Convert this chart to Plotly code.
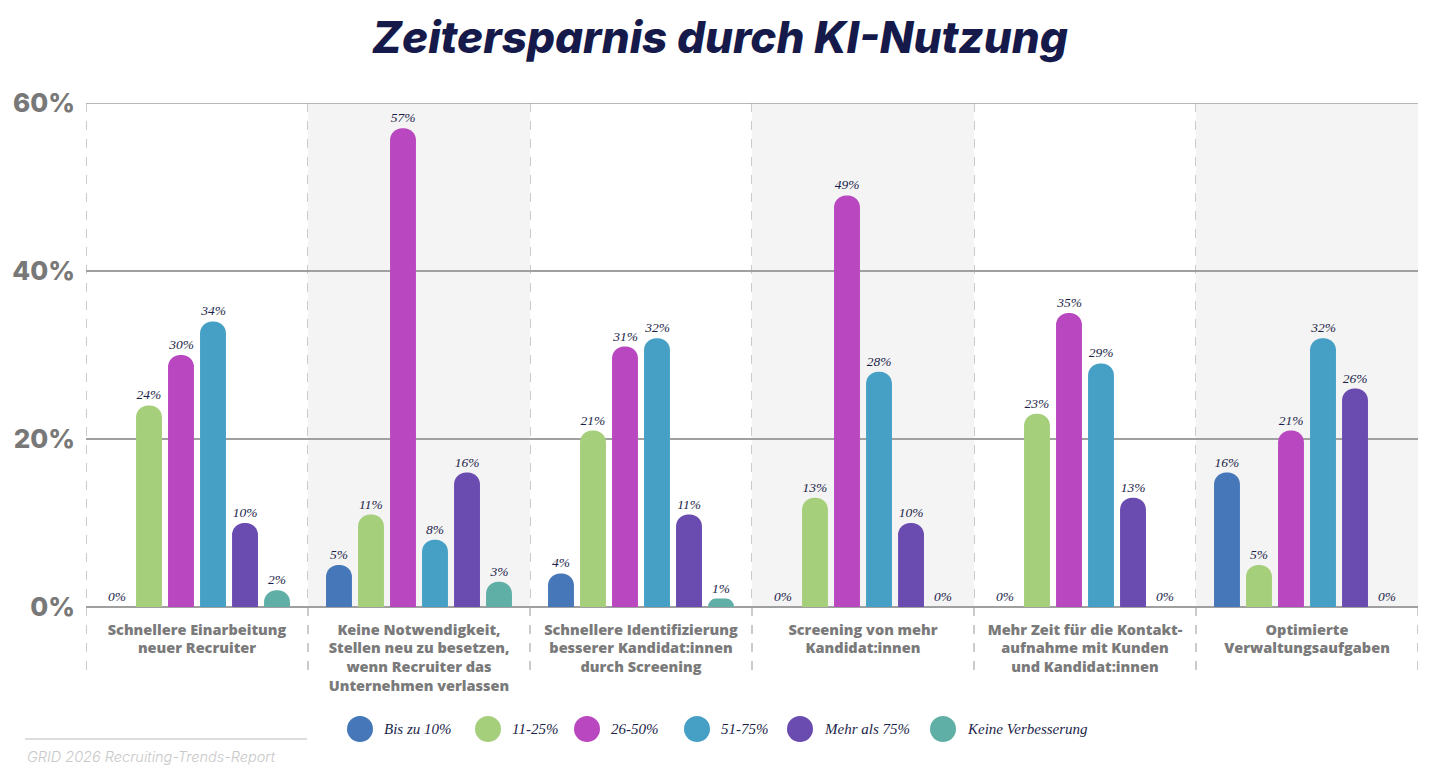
import plotly.graph_objects as go

categories = [
    "Schnellere Einarbeitung<br>neuer Recruiter",
    "Keine Notwendigkeit,<br>Stellen neu zu besetzen,<br>wenn Recruiter das<br>Unternehmen verlassen",
    "Schnellere Identifizierung<br>besserer Kandidat:innen<br>durch Screening",
    "Screening von mehr<br>Kandidat:innen",
    "Mehr Zeit für die Kontakt-<br>aufnahme mit Kunden<br>und Kandidat:innen",
    "Optimierte<br>Verwaltungsaufgaben",
]
series_names = ["Bis zu 10%", "11-25%", "26-50%", "51-75%", "Mehr als 75%", "Keine Verbesserung"]
bis_10 = [0, 5, 4, 0, 0, 16]
p11_25 = [24, 11, 21, 13, 23, 5]
p26_50 = [30, 57, 31, 49, 35, 21]
p51_75 = [34, 8, 32, 28, 29, 32]
mehr_75 = [10, 16, 11, 10, 13, 26]
keine = [2, 3, 1, 0, 0, 0]
series_values = [bis_10, p11_25, p26_50, p51_75, mehr_75, keine]
y_ticks = [0, 20, 40, 60]
y_tick_labels = ["0%", "20%", "40%", "60%"]

colors = ["#4677b8", "#a6cf7c", "#b948c0", "#46a0c6", "#6a4bb0", "#5fafa7"]

W, H = 1440, 784
L, R, T, B = 86, 22, 103, 177
PW, PH = W - L - R, H - T - B


def px_x(px):
    return (px - L) / PW


def px_y(py):
    return (H - B - py) / PH


fig = go.Figure()
xs = list(range(len(categories)))
for name, vals, col in zip(series_names, series_values, colors):
    fig.add_trace(go.Bar(
        x=xs, y=vals, name=name,
        marker=dict(color=col, cornerradius="50%", line=dict(width=0)),
        text=[f"{v}%" for v in vals],
        textposition="outside",
        textfont=dict(family="Liberation Serif", size=13.5, color="#1c1f4a", style="italic"),
        cliponaxis=False,
        showlegend=False,
    ))

shapes = []
# alternating shading
for i in range(len(categories)):
    if i % 2 == 1:
        shapes.append(dict(type="rect", xref="x", yref="y", x0=i - 0.5, x1=i + 0.5, y0=0, y1=60,
                           fillcolor="#f4f4f4", line=dict(width=0), layer="below"))
# dashed separators
for i in range(len(categories) + 1):
    shapes.append(dict(type="line", xref="x", yref="paper", x0=i - 0.5, x1=i - 0.5,
                       y0=1, y1=px_y(672), line=dict(color="#b0b0b0", width=1.3, dash="dash"), layer="below"))
# top gridline at the range edge
shapes.append(dict(type="line", xref="paper", yref="y", x0=0, x1=1, y0=60, y1=60,
                   line=dict(color="#a0a0a0", width=1.5)))
# source line
shapes.append(dict(type="line", xref="paper", yref="paper", x0=px_x(25), x1=px_x(307),
                   y0=px_y(739), y1=px_y(739), line=dict(color="#dddddd", width=2)))

annotations = []
# legend drawn manually with circles
legend_centers = [360, 488, 587, 697, 800, 943]
r = 13
for name, col, cx in zip(series_names, colors, legend_centers):
    shapes.append(dict(type="circle", xref="paper", yref="paper",
                       x0=px_x(cx - r), x1=px_x(cx + r), y0=px_y(729 + r), y1=px_y(729 - r),
                       fillcolor=col, line=dict(width=0)))
    annotations.append(dict(xref="paper", yref="paper", x=px_x(cx + 22), y=px_y(729),
                            xanchor="left", yanchor="middle", showarrow=False, text=name,
                            font=dict(family="Liberation Serif", size=15, color="#1c1f4a", style="italic")))
annotations.append(dict(xref="paper", yref="paper", x=px_x(25), y=px_y(756), xanchor="left",
                        yanchor="middle", showarrow=False, text="GRID 2026 Recruiting-Trends-Report",
                        font=dict(family="Inter", size=14.5, color="#c8c8c8", style="italic", weight=300)))

fig.update_layout(
    width=W, height=H,
    margin=dict(l=L, r=R, t=T, b=B, autoexpand=False),
    paper_bgcolor="white", plot_bgcolor="white",
    barmode="group", bargap=0.135, bargroupgap=0.19,
    title=dict(text="Zeitersparnis durch KI-Nutzung", x=0.5, xref="container", xanchor="center",
               y=1 - 38 / H, yref="container", yanchor="middle",
               font=dict(family="Inter", size=44, color="#151a4b", weight=800, style="italic")),
    xaxis=dict(tickmode="array", tickvals=xs, ticktext=categories, range=[-0.5, len(categories) - 0.5],
               showgrid=False, zeroline=False, showline=False, ticks="", automargin=False,
               ticklabelstandoff=12,
               tickfont=dict(family="Open Sans", size=14.5, color="#7a7a7a", weight=800)),
    yaxis=dict(range=[0, 60], tickmode="array", tickvals=y_ticks, ticktext=y_tick_labels,
               showgrid=True, gridcolor="#a0a0a0", gridwidth=1.5, zeroline=True, automargin=False,
               zerolinecolor="#a0a0a0", zerolinewidth=2, ticks="", ticklabelstandoff=10,
               tickfont=dict(family="Inter", size=26, color="#787878", weight=800)),
    shapes=shapes, annotations=annotations,
)

fig.write_html("out.html")
